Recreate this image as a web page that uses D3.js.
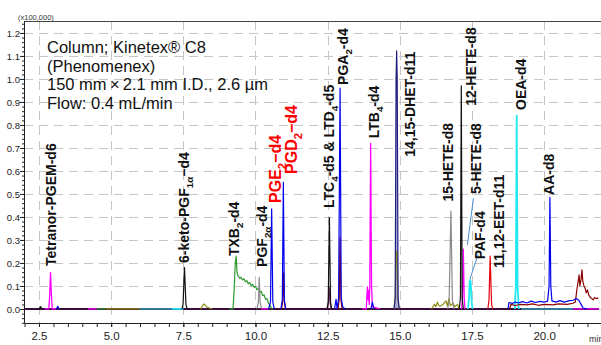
<!DOCTYPE html>
<html>
<head>
<meta charset="utf-8">
<script src="https://cdn.jsdelivr.net/npm/d3@7"></script>
<style>
  body { margin: 0; background: #fff; }
  svg { display: block; font-family: "Liberation Sans", Arial, sans-serif; }
  .narrow { font-family: "Liberation Sans Narrow", "Arial Narrow", "Liberation Sans", sans-serif; }
</style>
</head>
<body>
<svg id="chart" width="601" height="345"></svg>
<script>
// retention time (min) vs intensity (x100,000)
const xTicks = [2.5, 5.0, 7.5, 10.0, 12.5, 15.0, 17.5, 20.0];
const yTicks = [0.0, 0.1, 0.2, 0.3, 0.4, 0.5, 0.6, 0.7, 0.8, 0.9, 1.0, 1.1, 1.2];

// one array per trace colour, [time, intensity]; null = gap
const darkBase = [[1.98, 0], [21.9, 0]];
const tealTrace = [[6.0, 0], [7.1, 0], null, [19.2, 0], [21.0, 0]];
const oliveTrace = [[4.8, 0], [6.0, 0], null,
  [8.1, 0], [8.15, 0.01], [8.2, 0.022], [8.25, 0.018], [8.3, 0.01], [8.4, 0.004], [8.5, 0], null,
  [14.8, 0], [14.84, 0.05], [14.87, 0.25], [14.9, 0.25], [14.93, 0.05], [14.97, 0], null,
  [16.1, 0], [16.2, 0.02], [16.25, 0.01], [16.3, 0.03], [16.35, 0.015], [16.4, 0.012], [16.5, 0.02],
  [16.6, 0.035], [16.65, 0.012], [16.7, 0.045], [16.75, 0.015], [16.85, 0.025], [16.9, 0.01],
  [17.0, 0.02], [17.05, 0]];
const greenTrace = [[4.5, 0], [4.8, 0], null,
  [9.1, 0], [9.22, 0], [9.26, 0.08], [9.3, 0.2], [9.33, 0.23], [9.36, 0.16], [9.39, 0.145],
  [9.42, 0.14], [9.46, 0.133], [9.5, 0.138], [9.55, 0.126], [9.6, 0.131], [9.65, 0.118],
  [9.7, 0.123], [9.75, 0.11], [9.8, 0.115], [9.85, 0.102], [9.9, 0.107], [9.95, 0.094],
  [10.0, 0.099], [10.05, 0.084], [10.1, 0.089], [10.15, 0.072], [10.2, 0.077], [10.25, 0.058],
  [10.3, 0.061], [10.35, 0.042], [10.4, 0.045], [10.45, 0.025], [10.5, 0.017], [10.55, 0.004], [10.6, 0]];
const cyanTrace = [[7.1, 0], [7.5, 0], null,
  [17.36, 0], [17.4, 0.05], [17.42, 0.12], [17.44, 0.126], [17.46, 0.11], [17.49, 0.03], [17.52, 0], null,
  [18.98, 0], [19.02, 0.1], [19.05, 0.84], [19.08, 0.1], [19.12, 0]];
const grayTrace = [[10.05, 0], [10.1, 0.03], [10.13, 0.138], [10.16, 0.03], [10.21, 0], null,
  [16.66, 0], [16.71, 0.04], [16.77, 0.426], [16.82, 0.04], [16.87, 0]];
const maroonTrace = [[10.9, 0], [10.94, 0.03], [10.97, 0.157], [11.0, 0.03], [11.04, 0], null,
  [12.86, 0], [12.9, 0.04], [12.93, 0.31], [12.96, 0.04], [13.0, 0], null,
  [18.8, 0], [18.85, 0.02], [19.0, 0.015], [19.2, 0.02], [19.4, 0.018], [19.6, 0.022], [19.8, 0.016],
  [20.0, 0.02], [20.3, 0.018], [20.5, 0.022], [20.8, 0.02], [21.0, 0.025], [21.08, 0.03],
  [21.14, 0.09], [21.18, 0.12], [21.21, 0.148], [21.24, 0.1], [21.28, 0.13], [21.31, 0.17],
  [21.34, 0.12], [21.38, 0.1], [21.42, 0.09], [21.46, 0.07], [21.5, 0.083], [21.55, 0.06],
  [21.6, 0.05], [21.65, 0.045], [21.7, 0.04], [21.75, 0.05], [21.8, 0.045], [21.88, 0.048]];
const purpleTrace = [[12.48, 0], [12.52, 0.02], [12.55, 0.097], [12.58, 0.03], [12.62, 0]];
const magentaTrace = [[2.7, 0], [2.84, 0], [2.87, 0.06], [2.9, 0.158], [2.93, 0.06], [2.96, 0], [3.1, 0], null,
  [4.2, 0], [4.5, 0], null, [10.2, 0], [10.45, 0], null,
  [13.7, 0], [13.84, 0], [13.86, 0.06], [13.88, 0.096], [13.9, 0.04], [13.92, 0.08], [13.94, 0.02],
  [13.96, 0.1], [13.99, 0.72], [14.02, 0.1], [14.05, 0.01], [14.3, 0], null,
  [17.14, 0], [17.17, 0.05], [17.2, 0.26], [17.23, 0.05], [17.26, 0], null,
  [21.0, 0], [21.9, 0]];
const redTrace = [[18.05, 0], [18.09, 0.04], [18.13, 0.23], [18.16, 0.1], [18.18, 0.02], [18.22, 0]];
const navyTrace = [[14.8, 0], [14.84, 0.05], [14.87, 1.0], [14.89, 1.122], [14.91, 1.0], [14.94, 0.05], [14.98, 0]];
const blackTrace = [[2.5, 0], [2.56, 0.01], [2.6, 0], null,
  [7.45, 0], [7.49, 0.02], [7.54, 0.18], [7.59, 0.02], [7.63, 0], null,
  [12.48, 0], [12.52, 0.03], [12.56, 0.397], [12.6, 0.03], [12.64, 0], null,
  [17.06, 0], [17.1, 0.05], [17.13, 0.97], [17.16, 0.05], [17.2, 0]];
const blueTrace = [[3.1, 0], [3.15, 0.012], [3.2, 0], null,
  [10.45, 0], [10.52, 0.03], [10.56, 0.435], [10.6, 0.03], [10.65, 0], null,
  [10.88, 0], [10.93, 0.04], [10.965, 0.55], [11.0, 0.04], [11.05, 0], null,
  [12.74, 0], [12.79, 0.042], [12.83, 0.0], [12.88, 0.05], [12.93, 0.96], [12.97, 0.05], [13.02, 0.01], [13.1, 0], null,
  [14.0, 0], [14.05, 0.03], [14.1, 0], null,
  [18.75, 0], [18.78, 0.028], [18.9, 0.024], [19.0, 0.03], [19.1, 0.026], [19.25, 0.032], [19.4, 0.026],
  [19.55, 0.034], [19.7, 0.028], [19.85, 0.033], [20.0, 0.03], [20.12, 0.034], [20.17, 0.1],
  [20.2, 0.485], [20.23, 0.1], [20.27, 0.035], [20.4, 0.03], [20.55, 0.036], [20.7, 0.03],
  [20.85, 0.035], [21.0, 0.038], [21.12, 0.045], [21.2, 0.038], [21.28, 0.02], [21.35, 0.004], [21.5, 0]];

// peak labels: {..} marks a subscript
const peakLabels = ["Tetranor-PGEM-d6", "6-keto-PGF{1α}−d4", "TXB{2}-d4", "PGF{2α}-d4", "PGE{2}−d4",
  "PGD{2}−d4", "LTC{4}-d5 & LTD{4}-d5", "PGA{2}-d4", "LTB{4}-d4", "14,15-DHET-d11", "15-HETE-d8",
  "12-HETE-d8", "5-HETE-d8", "PAF-d4", "11,12-EET-d11", "OEA-d4", "AA-d8"];
const labelTimes = [2.92, 7.52, 9.26, 10.21, 10.69, 11.25, 12.55, 13.03, 14.11, 15.35, 16.67,
  17.47, 17.63, 17.78, 18.42, 19.18, 20.15];
const labelLevels = [0.187, 0.2, 0.23, 0.183, 0.461, 0.587, 0.439, 0.974, 0.742, 0.662, 0.467,
  0.883, 0.5, 0.216, 0.178, 0.865, 0.496];
const redLabels = ["PGE{2}−d4", "PGD{2}−d4"];

// leader lines for crowded labels [[t0, v0], [t1, v1]]
const leaderLines = [[[17.55, 0.481], [17.34, 0.278]], [[17.72, 0.239], [17.43, 0.13]]];

const infoLines = ["Column; Kinetex® C8", "(Phenomenex)", "150 mm\u2009×\u20092.1 mm I.D., 2.6 µm", "Flow: 0.4 mL/min"];

const svg = d3.select('#chart');
const x = d3.scaleLinear().domain([1.98, 21.97]).range([24, 601]);
const y = d3.scaleLinear().domain([-0.061, 1.252]).range([323, 21]);

// grid
const grid = svg.append('g').attr('stroke', '#c4c4c4').attr('stroke-dasharray', '9,6');
grid.selectAll('line.h').data(yTicks).enter().append('line')
  .attr('x1', x.range()[0]).attr('x2', x.range()[1])
  .attr('y1', d => y(d) + 0.5).attr('y2', d => y(d) + 0.5);
grid.selectAll('line.v').data(xTicks).enter().append('line')
  .attr('y1', y.range()[1]).attr('y2', y.range()[0])
  .attr('x1', d => Math.round(x(d)) + 0.5).attr('x2', d => Math.round(x(d)) + 0.5);

// top frame
svg.append('line')
  .attr('x1', x.range()[0]).attr('x2', x.range()[1])
  .attr('y1', y.range()[1] + 0.5).attr('y2', y.range()[1] + 0.5)
  .attr('stroke', '#444');

// traces
const line = d3.line().defined(d => d !== null).x(d => x(d[0])).y(d => y(d[1]));
const area = d3.area().defined(d => d !== null).x(d => x(d[0])).y0(y(0)).y1(d => y(d[1]));

svg.append('path').datum(navyTrace).attr('d', area).attr('fill', '#a9a9d8');

const traces = [
  { data: darkBase, color: '#3a0d3a', width: 2 },
  { data: tealTrace, color: '#2f7896', width: 2 },
  { data: oliveTrace, color: '#8c8c10', width: 1.2 },
  { data: greenTrace, color: '#2e9a2e', width: 1.2 },
  { data: cyanTrace, color: '#20e8f0', width: 1.8 },
  { data: grayTrace, color: '#8a8a8a', width: 1.2 },
  { data: maroonTrace, color: '#8b0000', width: 1.2 },
  { data: purpleTrace, color: '#7a1f6a', width: 1.2 },
  { data: magentaTrace, color: '#ff00ff', width: 1.3 },
  { data: redTrace, color: '#e8000b', width: 1.2 },
  { data: navyTrace, color: '#1f1f80', width: 1.2 },
  { data: blackTrace, color: '#111111', width: 1.2 },
  { data: blueTrace, color: '#0000ee', width: 1.2 }
];
svg.append('g').selectAll('path').data(traces).enter().append('path')
  .attr('d', d => line(d.data))
  .attr('fill', 'none')
  .attr('stroke', d => d.color)
  .attr('stroke-width', d => d.width)
  .attr('stroke-linejoin', 'round');

// leader lines
svg.append('g').selectAll('line').data(leaderLines).enter().append('line')
  .attr('x1', d => x(d[0][0])).attr('y1', d => y(d[0][1]))
  .attr('x2', d => x(d[1][0])).attr('y2', d => y(d[1][1]))
  .attr('stroke', '#4c8fd6').attr('stroke-width', 1);

// axes
const yAxis = svg.append('g').attr('class', 'narrow').attr('transform', `translate(${x.range()[0]},0)`)
  .call(d3.axisLeft(y).tickValues(yTicks).tickFormat(d3.format('.1f')).tickSize(4).tickSizeOuter(0));
svg.append('g').attr('transform', `translate(${x.range()[0]},0)`)
  .call(d3.axisLeft(y).tickValues(d3.range(-0.06, 1.25, 0.02)).tickFormat('').tickSize(2).tickSizeOuter(0))
  .select('.domain').remove();
yAxis.selectAll('text').attr('font-size', 9.5).attr('x', -4).attr('fill', '#222');

const xAxis = svg.append('g').attr('class', 'narrow').attr('transform', `translate(0,${y.range()[0]})`)
  .call(d3.axisBottom(x).tickValues(xTicks).tickFormat(d3.format('.1f')).tickSize(4).tickSizeOuter(0));
svg.append('g').attr('transform', `translate(0,${y.range()[0]})`)
  .call(d3.axisBottom(x).tickValues(d3.range(2.0, 22.0, 0.5)).tickFormat('').tickSize(4).tickSizeOuter(0))
  .select('.domain').remove();
xAxis.selectAll('text').attr('font-size', 11.5).attr('y', 9).attr('fill', '#222');
svg.selectAll('.tick line').attr('stroke', '#222');
svg.selectAll('.domain').attr('stroke', '#222');

svg.append('text').attr('x', 589).attr('y', 342).attr('font-size', 9).attr('fill', '#333').text('min');
svg.append('text').attr('x', 18).attr('y', 19.5).attr('font-size', 7.5).attr('fill', '#333')
  .attr('class', 'narrow').text('(x100,000)');

// info text
svg.append('g').selectAll('text').data(infoLines).enter().append('text')
  .attr('x', 47).attr('y', (d, i) => 53 + i * 18.7)
  .attr('font-size', 16.5).attr('fill', '#111').text(d => d);

// peak labels
const lbl = svg.append('g').selectAll('text').data(peakLabels).enter().append('text')
  .attr('transform', (d, i) => `translate(${x(labelTimes[i])},${y(labelLevels[i])}) rotate(-90)`)
  .attr('dy', '0.36em')
  .attr('font-weight', 'bold')
  .attr('font-size', d => redLabels.includes(d) ? 16 : 14)
  .attr('fill', d => redLabels.includes(d) ? '#ff0000' : '#111');
lbl.each(function(d) {
  const t = d3.select(this);
  let afterSub = false;
  d.split(/(\{[^}]*\})/).filter(s => s).forEach(part => {
    if (part[0] === '{') {
      t.append('tspan').attr('font-size', '70%').attr('dy', '0.42em').text(part.slice(1, -1));
      afterSub = true;
    } else {
      const sp = t.append('tspan').text(part);
      if (afterSub) sp.attr('dy', '-0.3em');
      afterSub = false;
    }
  });
});
</script>
</body>
</html>
